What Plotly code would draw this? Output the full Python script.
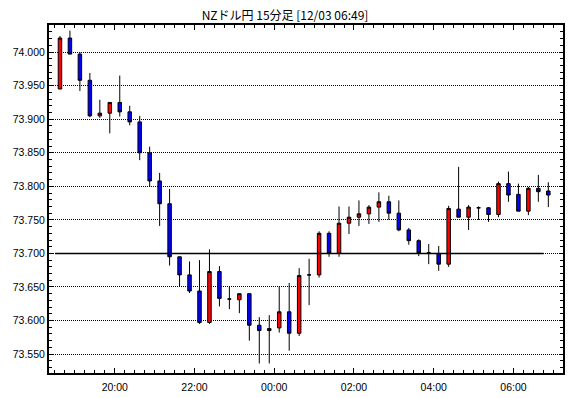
import pandas as pd
import plotly.graph_objects as go

TITLE = "NZドル円 15分足 [12/03 06:49]"
START = "2024-12-02 18:30"
N_BARS = 50
BAR_MINUTES = 15
REF_LEVEL = 73.700

OPEN = [73.945, 74.021, 73.997, 73.958, 73.905, 73.909, 73.925, 73.911, 73.896, 73.850,
        73.808, 73.774, 73.695, 73.668, 73.644, 73.597, 73.673, 73.632, 73.631, 73.640,
        73.593, 73.585, 73.589, 73.613, 73.581, 73.668, 73.668, 73.730, 73.700, 73.745,
        73.754, 73.759, 73.769, 73.777, 73.760, 73.735, 73.719, 73.701, 73.700, 73.684,
        73.766, 73.754, 73.768, 73.768, 73.758, 73.804, 73.788, 73.763, 73.797, 73.793]
HIGH = [74.024, 74.032, 74.000, 73.969, 73.929, 73.925, 73.965, 73.920, 73.905, 73.859,
        73.820, 73.796, 73.695, 73.688, 73.690, 73.706, 73.681, 73.651, 73.640, 73.640,
        73.605, 73.608, 73.651, 73.656, 73.678, 73.692, 73.733, 73.733, 73.770, 73.770,
        73.779, 73.772, 73.791, 73.786, 73.779, 73.738, 73.721, 73.714, 73.711, 73.771,
        73.829, 73.772, 73.770, 73.769, 73.807, 73.822, 73.804, 73.799, 73.817, 73.806]
LOW = [73.945, 73.997, 73.942, 73.903, 73.902, 73.879, 73.904, 73.891, 73.839, 73.799,
       73.741, 73.682, 73.651, 73.641, 73.595, 73.595, 73.621, 73.617, 73.611, 73.570,
       73.536, 73.536, 73.582, 73.555, 73.577, 73.623, 73.664, 73.695, 73.695, 73.729,
       73.741, 73.744, 73.747, 73.750, 73.733, 73.713, 73.696, 73.684, 73.674, 73.680,
       73.754, 73.735, 73.750, 73.747, 73.754, 73.777, 73.763, 73.757, 73.777, 73.769]
CLOSE = [74.021, 73.997, 73.958, 73.905, 73.909, 73.925, 73.911, 73.896, 73.850, 73.808,
         73.774, 73.695, 73.668, 73.644, 73.597, 73.673, 73.633, 73.632, 73.640, 73.593,
         73.585, 73.588, 73.613, 73.581, 73.667, 73.668, 73.730, 73.700, 73.745, 73.754,
         73.759, 73.769, 73.777, 73.760, 73.735, 73.719, 73.700, 73.701, 73.684, 73.767,
         73.754, 73.769, 73.768, 73.758, 73.804, 73.787, 73.763, 73.797, 73.792, 73.787]

X_RANGE = ["2024-12-02 18:21", "2024-12-03 07:14:36"]
Y_RANGE = [73.5218, 74.0404]

times = pd.date_range(START, periods=N_BARS, freq=f"{BAR_MINUTES}min")
period_ms = BAR_MINUTES * 60 * 1000

FONT = "Liberation Sans, Arial, sans-serif"

fig = go.Figure()
fig.add_trace(go.Candlestick(
    x=times, open=OPEN, high=HIGH, low=LOW, close=CLOSE,
    xperiod=period_ms, xperiodalignment="middle",
    increasing=dict(fillcolor="#ff0000", line=dict(color="#000000", width=1)),
    decreasing=dict(fillcolor="#0000ff", line=dict(color="#000000", width=1)),
    whiskerwidth=0, showlegend=False, hoverinfo="skip",
))
fig.add_trace(go.Scatter(
    x=[times[0], times[-1]], y=[REF_LEVEL, REF_LEVEL], mode="lines",
    line=dict(color="#000000", width=1.5), showlegend=False, hoverinfo="skip",
))

fig.update_layout(
    width=570, height=398,
    margin=dict(l=49, r=5, t=25, b=23),
    paper_bgcolor="white", plot_bgcolor="white",
    boxgap=0.5,
    title=dict(text=TITLE, x=0.5, xref="container", xanchor="center",
               y=1 - 15.5 / 398, yref="container", yanchor="middle",
               font=dict(family="Noto Sans CJK JP", size=12, color="black")),
    font=dict(family=FONT, size=10.5, color="black"),
    xaxis=dict(
        type="date", range=X_RANGE, rangeslider=dict(visible=False),
        showgrid=False, zeroline=False,
        showline=True, linecolor="black", linewidth=2, mirror="ticks",
        ticks="inside", ticklen=5, tickwidth=1, tickcolor="black",
        tick0="2024-12-02 00:00", dtick=2 * 3600 * 1000, tickformat="%H:%M",
        ticklabelstandoff=3,
        minor=dict(ticks="inside", ticklen=3, tickwidth=1, tickcolor="black",
                   dtick=period_ms, showgrid=False),
        fixedrange=True,
    ),
    yaxis=dict(
        range=Y_RANGE, showgrid=True, gridcolor="black", gridwidth=1, griddash="1px,1px",
        zeroline=False,
        showline=True, linecolor="black", linewidth=2, mirror="ticks",
        ticks="inside", ticklen=4, tickwidth=1, tickcolor="black",
        tick0=73.5, dtick=0.05, tickformat=".3f",
        minor=dict(ticks="inside", ticklen=3, tickwidth=1, tickcolor="black",
                   dtick=0.01, showgrid=False),
        fixedrange=True,
    ),
)

fig.write_html("out.html")
